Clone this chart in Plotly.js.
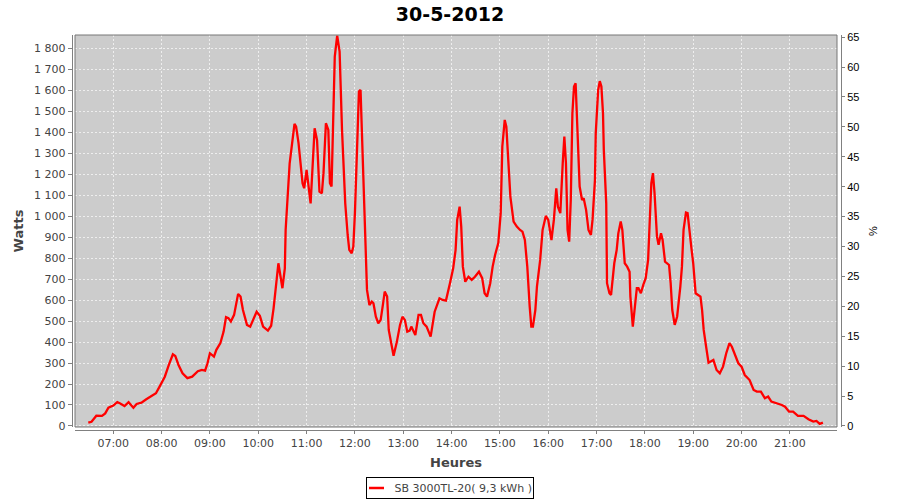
<!DOCTYPE html>
<html>
<head>
<meta charset="utf-8">
<script src="https://cdn.plot.ly/plotly-3.0.1.min.js"></script>
<style>html,body{margin:0;padding:0;background:#fff;}#chart{width:900px;height:500px;}</style>
</head>
<body>
<div id="chart"></div>
<script>
const day = '2012-05-30';
const chartTitle = '30-5-2012';
const seriesName = 'SB 3000TL-20( 9,3 kWh )';

const times = [
  '06:29','06:33','06:39','06:46','06:50','06:54',
  '07:00','07:05','07:08','07:14','07:19','07:25','07:29','07:35','07:41','07:48','07:53','07:58',
  '08:04','08:09','08:14','08:17','08:21','08:26','08:32','08:38','08:45','08:50','08:54','08:57',
  '09:00','09:05','09:08','09:13','09:17','09:20','09:23','09:26','09:30','09:35','09:38','09:41','09:46','09:50','09:54','09:58',
  '10:02','10:06','10:12','10:16','10:19','10:25','10:30','10:33','10:34','10:39','10:45','10:47','10:50','10:55','10:57',
  '11:00','11:02','11:05','11:10','11:13','11:16','11:19','11:21','11:24','11:27','11:29','11:31','11:33','11:35','11:38','11:41','11:44','11:46','11:48','11:51','11:53','11:56','11:58',
  '12:00','12:02','12:05','12:07','12:10','12:13','12:15','12:18','12:21','12:23','12:26','12:29','12:32','12:35','12:37','12:40','12:42','12:48','12:52','12:56','12:59',
  '13:02','13:05','13:08','13:10','13:15','13:19','13:22','13:25','13:29','13:34','13:39','13:45','13:49','13:53','13:58',
  '14:02','14:05','14:07','14:10','14:12','14:14','14:17','14:21','14:25','14:29','14:34','14:38','14:41','14:44','14:48','14:51','14:54','14:58',
  '15:01','15:03','15:06','15:08','15:10','15:13','15:17','15:21','15:25','15:28','15:31','15:34','15:37','15:39','15:41','15:44','15:46','15:50','15:53','15:57',
  '16:00','16:04','16:07','16:10','16:12','16:15','16:18','16:20','16:22','16:24','16:26','16:28','16:30','16:32','16:34','16:36','16:39','16:42','16:44','16:47','16:50','16:53','16:55','16:58','16:59',
  '17:02','17:04','17:06','17:08','17:09','17:12','17:13','17:16','17:18','17:20','17:22','17:25','17:27','17:30','17:32','17:35','17:38','17:41','17:42','17:45','17:47','17:50','17:52','17:55','17:58',
  '18:01','18:04','18:06','18:08','18:10','18:12','18:15','18:17','18:20','18:22','18:25','18:27','18:30','18:32','18:34','18:37','18:40','18:44','18:46','18:48','18:51','18:53','18:55','18:58',
  '19:00','19:03','19:06','19:09','19:11','19:13','19:16','19:19','19:25','19:29','19:33','19:37','19:41','19:45','19:48','19:52','19:56',
  '20:00','20:04','20:10','20:15','20:19','20:24','20:29','20:33','20:37','20:44','20:50','20:54','20:59',
  '21:04','21:10','21:17','21:23','21:29','21:33','21:37','21:41'
];

const watts = [
  16,20,49,48,60,87,
  97,114,108,95,113,87,105,111,127,143,156,191,
  235,291,342,334,291,251,228,235,261,267,264,299,
  347,331,363,395,450,519,514,498,530,630,617,553,482,474,506,545,
  525,474,455,478,560,776,657,752,935,1253,1441,1428,1349,1158,1134,
  1221,1158,1062,1420,1364,1118,1110,1206,1444,1412,1158,1142,1412,1762,1862,1786,1412,1253,1062,911,840,824,855,
  1015,1285,1595,1603,1221,840,649,577,593,585,521,490,506,585,641,617,458,335,400,482,521,
  506,450,455,474,434,530,530,490,474,426,545,609,601,598,681,
  752,840,983,1046,951,760,688,712,697,712,736,705,633,617,681,760,816,872,
  1015,1333,1460,1428,1301,1094,975,951,935,927,887,760,569,474,474,553,665,792,935,1002,
  983,887,983,1134,1046,1015,1253,1380,1253,935,879,1078,1492,1619,1635,1460,1142,1078,1086,1031,935,911,983,1174,1396,
  1603,1645,1619,1492,1317,1062,681,633,625,705,776,840,919,975,935,776,760,736,617,474,538,657,657,633,673,
  705,792,983,1158,1206,1110,903,864,919,887,784,776,768,681,553,482,521,665,760,935,1018,1015,935,840,
  776,633,625,617,553,458,378,302,315,267,251,283,347,395,378,339,299,
  283,243,219,172,164,164,132,140,116,108,100,92,68,
  68,48,48,32,21,24,10,16
];

const xRange = ['06:12:30', '21:58:30'];
const wattRange = [-5, 1865];
const pctRange = [-0.17, 65.35];

const lineColor = '#ff0000';
const xs = times.map(t => day + ' ' + t);

const traces = [
  {
    x: xs, y: watts, type: 'scatter', mode: 'lines', name: seriesName,
    line: {color: lineColor, width: 2.3}, xaxis: 'x', yaxis: 'y', showlegend: false
  },
  {
    x: [], y: [], type: 'scatter', mode: 'lines', showlegend: false,
    xaxis: 'x', yaxis: 'y2', hoverinfo: 'skip'
  }
];

const axisFont = {family: 'DejaVu Sans', size: 11, color: '#444'};

// paper coordinate helpers (paper area: x 71..842 px, y 35..430 px)
const px = v => (v - 71) / 771;
const py = v => (430 - v) / 395;

const layout = {
  width: 900, height: 500,
  margin: {l: 71, r: 58, t: 35, b: 70, pad: 0},
  paper_bgcolor: '#ffffff',
  plot_bgcolor: '#cccccc',
  separators: ', ',
  showlegend: false,
  title: {
    text: chartTitle,
    font: {family: 'DejaVu Sans', size: 19, color: '#000', weight: 'bold'},
    xref: 'container', x: 0.5, xanchor: 'center',
    yref: 'container', y: 0.972, yanchor: 'middle'
  },
  xaxis: {
    type: 'date',
    domain: [4/771, 766/771],
    anchor: 'free', position: 0,
    range: [day + ' ' + xRange[0], day + ' ' + xRange[1]],
    tickformat: '%H:%M',
    tick0: day + ' 07:00', dtick: 3600000,
    ticks: 'outside', ticklen: 3, tickcolor: '#808080',
    showline: true, linecolor: '#808080', linewidth: 1,
    showgrid: true, gridcolor: '#eeeeee', griddash: '2px,2px', gridwidth: 1,
    zeroline: false,
    tickfont: axisFont,
    title: {text: 'Heures', font: {family: 'DejaVu Sans', size: 13, color: '#444', weight: 'bold'}, standoff: 8}
  },
  yaxis: {
    domain: [3/395, 1],
    anchor: 'free', position: 0.0009,
    range: wattRange,
    tick0: 0, dtick: 100,
    tickformat: ',d',
    ticks: 'outside', ticklen: 4, tickcolor: '#808080',
    showline: true, linecolor: '#808080', linewidth: 1,
    showgrid: true, gridcolor: '#eeeeee', griddash: '2px,2px', gridwidth: 1,
    zeroline: false,
    tickfont: axisFont,
    title: {text: 'Watts', font: {family: 'DejaVu Sans', size: 13, color: '#444', weight: 'bold'}, standoff: 6}
  },
  yaxis2: {
    overlaying: 'y', side: 'right',
    anchor: 'free', position: 0.9987,
    range: pctRange,
    tick0: 0, dtick: 5,
    ticks: 'outside', ticklen: 3, tickcolor: '#808080',
    showline: true, linecolor: '#808080', linewidth: 1,
    showgrid: false, zeroline: false,
    tickfont: {family: 'Liberation Sans', size: 11, color: '#000'},
    title: {text: '%', font: {family: 'Liberation Sans', size: 11, color: '#000'}, standoff: 10}
  },
  shapes: [
    {type: 'rect', xref: 'x domain', yref: 'y domain', x0: 0, x1: 1, y0: 0, y1: 1,
     line: {color: '#777777', width: 1}, fillcolor: 'rgba(0,0,0,0)', layer: 'above'},
    {type: 'line', xref: 'paper', yref: 'paper', x0: px(369), x1: px(384), y0: py(488), y1: py(488),
     line: {color: lineColor, width: 2.5}}
  ],
  annotations: [
    {
      text: seriesName,
      xref: 'paper', yref: 'paper', x: px(450), y: py(488),
      xanchor: 'center', yanchor: 'middle',
      showarrow: false,
      width: 164, height: 18, align: 'right', valign: 'middle',
      bordercolor: '#000', borderwidth: 1, borderpad: 1, bgcolor: 'rgba(255,255,255,0)',
      font: {family: 'DejaVu Sans', size: 11, color: '#444'}
    }
  ]
};

Plotly.newPlot('chart', traces, layout, {displayModeBar: false, staticPlot: true});
</script>
</body>
</html>
